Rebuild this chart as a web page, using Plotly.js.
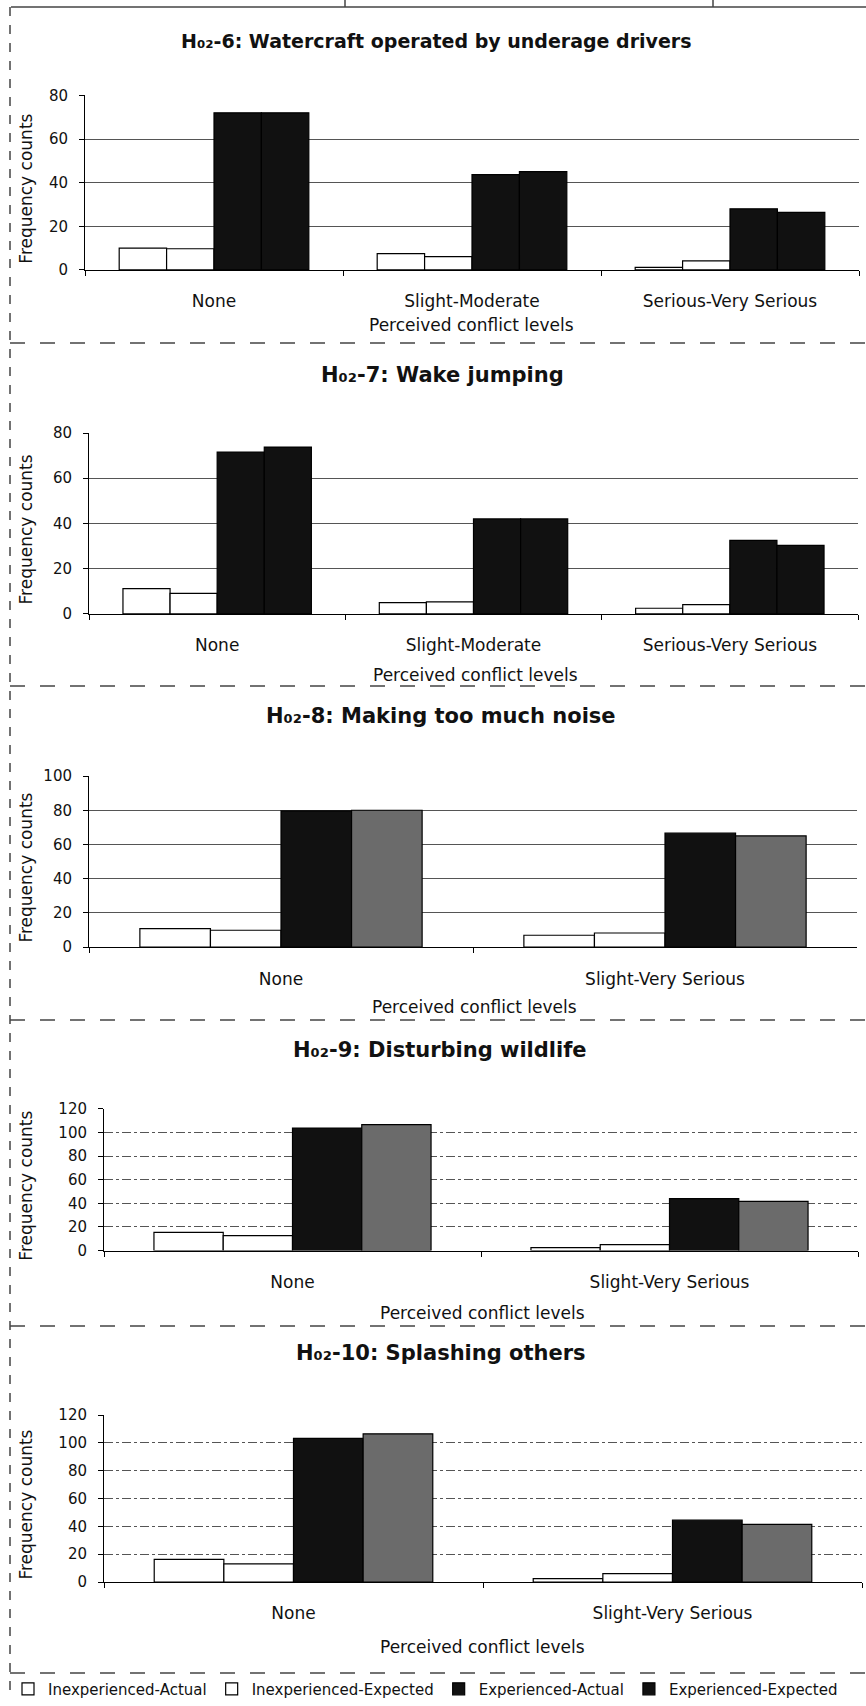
<!DOCTYPE html>
<html><head><meta charset="utf-8">
<script src="https://cdn.plot.ly/plotly-3.0.1.min.js"></script>
<style>html,body{margin:0;padding:0;background:#fff}</style>
</head><body><div id="chart" style="width:866px;height:1706px"></div>
<script>
// ---- data ----
const seriesNames = ['Inexperienced-Actual', 'Inexperienced-Expected', 'Experienced-Actual', 'Experienced-Expected'];
const chartTitles = [
  'H₀₂-6: Watercraft operated by underage drivers',
  'H₀₂-7: Wake jumping',
  'H₀₂-8: Making too much noise',
  'H₀₂-9: Disturbing wildlife',
  'H₀₂-10: Splashing others'
];
const xAxisTitle = 'Perceived conflict levels';
const yAxisTitle = 'Frequency counts';
const levels3 = ['None', 'Slight-Moderate', 'Serious-Very Serious'];
const levels2 = ['None', 'Slight-Very Serious'];

// H02-6
const h6InexpActual = [10, 7.5, 1.2];
const h6InexpExpected = [9.7, 6.1, 4.1];
const h6ExpActual = [72, 43.7, 28];
const h6ExpExpected = [72, 45.1, 26.4];
// H02-7
const h7InexpActual = [11.2, 5.0, 2.5];
const h7InexpExpected = [9.1, 5.3, 4.1];
const h7ExpActual = [71.6, 42, 32.5];
const h7ExpExpected = [73.8, 42, 30.3];
// H02-8
const h8InexpActual = [10.9, 7.0];
const h8InexpExpected = [9.9, 8.3];
const h8ExpActual = [79.6, 66.6];
const h8ExpExpected = [80, 65];
// H02-9
const h9InexpActual = [15.5, 2.5];
const h9InexpExpected = [12.7, 5.1];
const h9ExpActual = [103.7, 43.9];
const h9ExpExpected = [106.5, 41.7];
// H02-10
const h10InexpActual = [16.3, 2.5];
const h10InexpExpected = [13.1, 6.0];
const h10ExpActual = [103.3, 44.5];
const h10ExpExpected = [106.6, 41.4];

const yMax = [80, 80, 100, 120, 120];

// ---- layout geometry (px) ----
const W = 866, H = 1706;
const px = v => v / W;
const py = v => 1 - v / H;
const panels = [
  {x0: 85, x1: 859, yt: 95.7, yb: 270.7, tx: 436, ty: 41, tsize: 19, ax: 471, ay: 326, expExpColor: '#111', grid: 'solid'},
  {x0: 89, x1: 858, yt: 434.3, yb: 615.7, tx: 442, ty: 376, tsize: 21, ax: 475, ay: 677, expExpColor: '#111', grid: 'solid'},
  {x0: 89, x1: 857, yt: 778.3, yb: 950, tx: 441, ty: 718, tsize: 21, ax: 474, ay: 1010, expExpColor: '#6b6b6b', grid: 'solid'},
  {x0: 104, x1: 858, yt: 1112, yb: 1254.3, tx: 440, ty: 1053, tsize: 21, ax: 482, ay: 1317, expExpColor: '#6b6b6b', grid: 'dashdot'},
  {x0: 104, x1: 862, yt: 1419.3, yb: 1586.7, tx: 441, ty: 1357, tsize: 21, ax: 482, ay: 1652, expExpColor: '#6b6b6b', grid: 'dashdot'}
];
const panelData = [
  [levels3, [h6InexpActual, h6InexpExpected, h6ExpActual, h6ExpExpected]],
  [levels3, [h7InexpActual, h7InexpExpected, h7ExpActual, h7ExpExpected]],
  [levels2, [h8InexpActual, h8InexpExpected, h8ExpActual, h8ExpExpected]],
  [levels2, [h9InexpActual, h9InexpExpected, h9ExpActual, h9ExpExpected]],
  [levels2, [h10InexpActual, h10InexpExpected, h10ExpActual, h10ExpExpected]]
];

const FONT = 'DejaVu Sans, Arial, sans-serif';
const traces = [];
const layout = {
  width: W, height: H,
  margin: {l: 0, r: 0, t: 0, b: 0},
  paper_bgcolor: '#fff', plot_bgcolor: '#fff',
  font: {family: FONT, color: '#111', size: 15},
  barmode: 'group', bargap: 0.265, bargroupgap: 0,
  showlegend: true,
  legend: {orientation: 'h', x: px(8), xanchor: 'left', y: py(1694), yanchor: 'middle',
           font: {size: 15, family: FONT}, itemwidth: 30, traceorder: 'normal', bgcolor: 'rgba(0,0,0,0)'},
  annotations: [], shapes: []
};

panels.forEach((p, i) => {
  const n = i === 0 ? '' : String(i + 1);
  const [cats, vals] = panelData[i];
  const colors = ['#ffffff', '#ffffff', '#111111', p.expExpColor];
  vals.forEach((v, k) => {
    traces.push({
      type: 'bar', x: cats, y: v, name: seriesNames[k],
      xaxis: 'x' + n, yaxis: 'y' + n,
      marker: {color: colors[k], line: {color: '#000', width: 1.2}},
      showlegend: i === 0, legendgroup: seriesNames[k], hoverinfo: 'x+y+name'
    });
  });
  layout['xaxis' + n] = {
    domain: [px(p.x0), px(p.x1)], anchor: 'y' + n, type: 'category',
    showline: true, linecolor: '#000', linewidth: 1,
    ticks: 'outside', tickson: 'boundaries', ticklen: 5, tickcolor: '#000',
    showgrid: false, tickfont: {size: 17, family: FONT}, ticklabelstandoff: 16,
    fixedrange: true
  };
  layout['yaxis' + n] = {
    domain: [py(p.yb), py(p.yt)], anchor: 'x' + n,
    range: [0, yMax[i]], dtick: 20, tick0: 0,
    showline: true, linecolor: '#000', linewidth: 1,
    ticks: 'outside', ticklen: 5, tickcolor: '#000',
    showgrid: true, gridcolor: '#555', gridwidth: 1, griddash: p.grid,
    zeroline: false, tickfont: {size: 15, family: FONT}, ticklabelstandoff: 8,
    fixedrange: true
  };
  layout.annotations.push({
    text: chartTitles[i], xref: 'paper', yref: 'paper',
    x: px(p.tx), y: py(p.ty), xanchor: 'center', yanchor: 'middle', showarrow: false,
    font: {size: p.tsize, family: FONT, color: '#111', weight: 'bold'}
  });
  layout.annotations.push({
    text: xAxisTitle, xref: 'paper', yref: 'paper',
    x: px(p.ax), y: py(p.ay), xanchor: 'center', yanchor: 'middle', showarrow: false,
    font: {size: 17, family: FONT, color: '#111'}
  });
  layout.annotations.push({
    text: yAxisTitle, xref: 'paper', yref: 'paper', textangle: -90,
    x: px(26), y: py((p.yt + p.yb) / 2 + 6), xanchor: 'center', yanchor: 'middle', showarrow: false,
    font: {size: 17, family: FONT, color: '#111'}
  });
});

// frame / separator lines of the scanned page
const sepLine = (x0, y0, x1, y1, dash) => ({
  type: 'line', xref: 'paper', yref: 'paper', x0: px(x0), y0: py(y0), x1: px(x1), y1: py(y1),
  line: {color: '#444', width: 1.5, dash: dash || 'solid'}
});
layout.shapes.push(sepLine(11, 7, 866, 7));
layout.shapes.push(sepLine(345, 0, 345, 7));
layout.shapes.push(sepLine(713, 0, 713, 7));
layout.shapes.push(sepLine(10, 7, 10, 1700, 'dash'));
[344, 688, 1023, 1330, 1678].forEach(y => layout.shapes.push(sepLine(10, y, 866, y, 'longdash')));

Plotly.newPlot('chart', traces, layout, {staticPlot: true, displayModeBar: false});
</script></body></html>
